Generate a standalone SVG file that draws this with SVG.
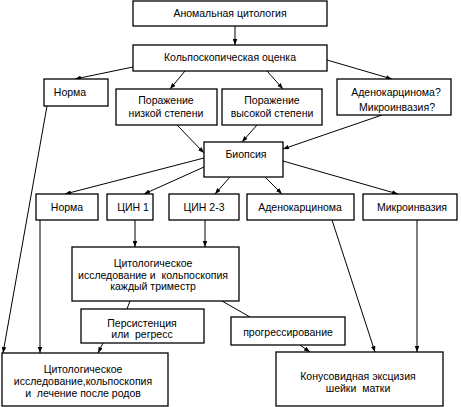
<svg xmlns="http://www.w3.org/2000/svg" width="461" height="407" viewBox="0 0 461 407">
<defs>
<marker id="ah" viewBox="0 0 8 6" refX="8" refY="3" markerWidth="6" markerHeight="4.5" markerUnits="userSpaceOnUse" orient="auto">
<path d="M0,0 L8,3 L0,6 Z" fill="#000"/>
</marker>
<style>
rect{fill:#fff;stroke:#000;stroke-width:1.3}
text{font-family:"Liberation Sans",Arial,sans-serif;font-size:10.5px;fill:#000;text-anchor:middle;white-space:pre}
.c line{stroke:#000;stroke-width:1}
.a{marker-end:url(#ah)}
</style>
</defs>
<rect x="0" y="0" width="461" height="407" style="fill:#fff;stroke:none"/>
<g class="c" id="connectors">
<line class="a" x1="235" y1="26" x2="235" y2="45"/>
<line class="a" x1="133" y1="67" x2="75" y2="79"/>
<line class="a" x1="185" y1="71" x2="170" y2="89"/>
<line class="a" x1="267" y1="71" x2="283" y2="89"/>
<line class="a" x1="327" y1="60" x2="392" y2="79"/>
<line class="a" x1="47" y1="106" x2="3" y2="353"/>
<line class="a" x1="177" y1="125" x2="204" y2="153"/>
<line class="a" x1="257" y1="125" x2="242" y2="142"/>
<line class="a" x1="382" y1="115" x2="283" y2="149"/>
<line class="a" x1="204" y1="158" x2="65" y2="194"/>
<line class="a" x1="204" y1="167" x2="144" y2="194"/>
<line class="a" x1="230" y1="177" x2="215" y2="194"/>
<line class="a" x1="265" y1="177" x2="282" y2="194"/>
<line class="a" x1="283" y1="161" x2="398" y2="194"/>
<line class="a" x1="135" y1="220" x2="135" y2="247"/>
<line class="a" x1="205" y1="220" x2="205" y2="247"/>
<line class="a" x1="40" y1="220" x2="40" y2="353"/>
<line class="a" x1="332" y1="220" x2="375" y2="352"/>
<line class="a" x1="417" y1="220" x2="417" y2="352"/>
<line x1="130" y1="301" x2="127" y2="309"/>
<line class="a" x1="103" y1="343" x2="98" y2="353"/>
<line x1="222" y1="301" x2="250" y2="317"/>
<line class="a" x1="300" y1="345" x2="310" y2="352"/>
</g>
<g id="n1"><rect x="133" y="1" width="194" height="25"/><text x="230" y="17">Аномальная цитология</text></g>
<g id="n2"><rect x="133" y="45" width="194" height="26"/><text x="230" y="61">Кольпоскопическая оценка</text></g>
<g id="n3"><rect x="44" y="79" width="64" height="27"/><text x="70" y="96">Норма</text></g>
<g id="n4"><rect x="116" y="89" width="101" height="36"/><text x="166" y="104">Поражение</text><text x="166" y="117">низкой степени</text></g>
<g id="n5"><rect x="222" y="89" width="100" height="36"/><text x="272" y="104">Поражение</text><text x="272" y="117">высокой степени</text></g>
<g id="n6"><rect x="337" y="79" width="114" height="36"/><text x="396" y="96">Аденокарцинома?</text><text x="397" y="111">Микроинвазия?</text></g>
<g id="n7"><rect x="204" y="142" width="79" height="35"/><text x="246" y="158">Биопсия</text></g>
<g id="n8"><rect x="36" y="194" width="62" height="26"/><text x="67" y="211">Норма</text></g>
<g id="n9"><rect x="107" y="194" width="46" height="26"/><text x="133" y="211">ЦИН 1</text></g>
<g id="n10"><rect x="169" y="194" width="70" height="26"/><text x="204" y="211">ЦИН 2-3</text></g>
<g id="n11"><rect x="247" y="194" width="107" height="26"/><text x="300" y="211">Аденокарцинома</text></g>
<g id="n12"><rect x="363" y="194" width="94" height="26"/><text x="412" y="211">Микроинвазия</text></g>
<g id="n13"><rect x="72" y="247" width="167" height="54"/><text x="153" y="267">Цитологическое</text><text x="153" y="279" xml:space="preserve">исследование и  кольпоскопия</text><text x="153" y="290">каждый триместр</text></g>
<g id="n14"><rect x="81" y="309" width="123" height="34"/><text x="142" y="327">Персистенция</text><text x="142" y="338" xml:space="preserve">или  регресс</text></g>
<g id="n15"><rect x="231" y="317" width="114" height="28"/><text x="288" y="336">прогрессирование</text></g>
<g id="n16"><rect x="2" y="353" width="166" height="53"/><text x="83" y="373">Цитологическое</text><text x="83" y="385">исследование,кольпоскопия</text><text x="83" y="397" xml:space="preserve">и  лечение после родов</text></g>
<g id="n17"><rect x="276" y="352" width="167" height="54"/><text x="358" y="380">Конусовидная эксцизия</text><text x="358" y="392" xml:space="preserve">шейки  матки</text></g>
</svg>
